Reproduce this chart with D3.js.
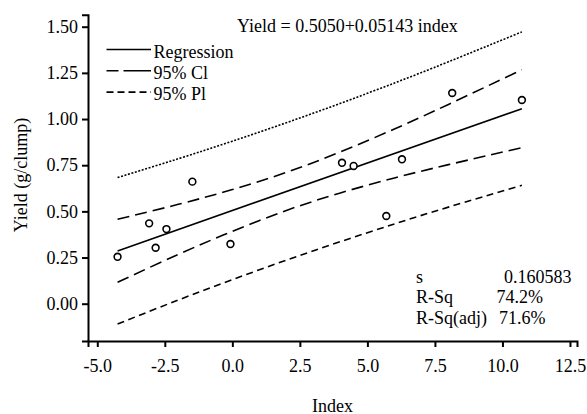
<!DOCTYPE html>
<html>
<head>
<meta charset="utf-8">
<script src="https://cdn.jsdelivr.net/npm/d3@7"></script>
<style>
  body { margin: 0; background: #fff; }
  svg text { font-family: "Liberation Serif", "Times New Roman", serif; font-size: 18px; fill: #000; }
</style>
</head>
<body>
<div id="chart"></div>
<script>
// observed points
const indexVals = [-4.25, -3.08, -2.84, -2.44, -1.48, -0.07, 4.06, 4.49, 5.70, 6.28, 8.14, 10.72];
const yieldVals = [0.254, 0.435, 0.303, 0.404, 0.661, 0.323, 0.763, 0.746, 0.475, 0.782, 1.141, 1.103];

// fitted line end points
const fitX = [-4.25, 10.72];
const fitY = [0.286, 1.056];

// bands
const bandX = [-4.25, -2, 0, 2, 4, 6, 8, 10.72];
const ciUpper = [0.457, 0.538, 0.618, 0.711, 0.822, 0.946, 1.079, 1.267];
const ciLower = [0.116, 0.267, 0.392, 0.505, 0.600, 0.681, 0.753, 0.845];
const piUpper = [0.683, 0.785, 0.880, 0.980, 1.085, 1.195, 1.310, 1.472];
const piLower = [-0.110, 0.020, 0.130, 0.236, 0.336, 0.432, 0.523, 0.641];

const xTicks = [-5, -2.5, 0, 2.5, 5, 7.5, 10, 12.5];
const yTicks = [0, 0.25, 0.5, 0.75, 1.0, 1.25, 1.5];

const equation = "Yield = 0.5050+0.05143 index";
const legendItems = ["Regression", "95% Cl", "95% Pl"];
const statNames = ["s", "R-Sq", "R-Sq(adj)"];
const statVals = ["0.160583", "74.2%", "71.6%"];

const width = 587, height = 414;

const svg = d3.select("#chart").append("svg")
    .attr("width", width)
    .attr("height", height);

const x = d3.scaleLinear().domain([-5.344, 12.76]).range([88, 577]);
const y = d3.scaleLinear().domain([-0.202, 1.565]).range([341, 14.7]);

// axes
const xAxis = svg.append("g")
    .attr("transform", "translate(0,341)")
    .call(d3.axisBottom(x).tickValues(xTicks).tickSizeOuter(0).tickSize(6).tickPadding(12)
        .tickFormat(d => d.toFixed(1)));
const yAxis = svg.append("g")
    .attr("transform", "translate(88,0)")
    .call(d3.axisLeft(y).tickValues(yTicks).tickSizeOuter(0).tickSize(6).tickPadding(4)
        .tickFormat(d => d.toFixed(2)));

[xAxis, yAxis].forEach(a => {
    a.selectAll("path, line").attr("stroke", "#000").attr("stroke-width", 2);
    a.selectAll("text").attr("font-family", null).attr("font-size", null);
});

// axis titles
svg.append("text")
    .attr("x", 332.5).attr("y", 411.5)
    .attr("text-anchor", "middle")
    .text("Index");
svg.append("text")
    .attr("transform", "translate(27,175) rotate(-90)")
    .attr("text-anchor", "middle")
    .text("Yield (g/clump)");

// lines
const line = d3.line()
    .x(d => x(d[0]))
    .y(d => y(d[1]))
    .curve(d3.curveNatural);

const bands = [
    {vals: ciUpper, dash: "12,6"},
    {vals: ciLower, dash: "12,6"},
    {vals: piUpper, dash: "2,1.6"},
    {vals: piLower, dash: "7,4.5"}
];

bands.forEach(b => {
    svg.append("path")
        .datum(d3.zip(bandX, b.vals))
        .attr("d", line)
        .attr("fill", "none")
        .attr("stroke", "#000")
        .attr("stroke-width", 1.6)
        .attr("stroke-dasharray", b.dash);
});

svg.append("path")
    .datum(d3.zip(fitX, fitY))
    .attr("d", d3.line().x(d => x(d[0])).y(d => y(d[1])))
    .attr("fill", "none")
    .attr("stroke", "#000")
    .attr("stroke-width", 1.6);

// points
svg.selectAll(".pt")
    .data(d3.zip(indexVals, yieldVals))
    .enter()
    .append("circle")
    .attr("class", "pt")
    .attr("cx", d => x(d[0]))
    .attr("cy", d => y(d[1]))
    .attr("r", 3.4)
    .attr("fill", "#fff")
    .attr("stroke", "#000")
    .attr("stroke-width", 1.6);

// equation
svg.append("text")
    .attr("x", 237).attr("y", 31.5)
    .text(equation);

// legend
const legendDash = [null, "12,5,40", "7,4"];
legendItems.forEach((name, i) => {
    const ly = 49.5 + i * 21.3;
    svg.append("line")
        .attr("x1", 106.5).attr("x2", 151)
        .attr("y1", ly).attr("y2", ly)
        .attr("stroke", "#000")
        .attr("stroke-width", 1.6)
        .attr("stroke-dasharray", legendDash[i]);
    svg.append("text")
        .attr("x", 153.5).attr("y", ly + 8)
        .text(name);
});

// stats box
const statValX = [571.5, 543, 545.5];
statNames.forEach((name, i) => {
    const sy = 282.5 + i * 20.8;
    svg.append("text").attr("x", 416).attr("y", sy).text(name);
    svg.append("text").attr("x", statValX[i]).attr("y", sy)
        .attr("text-anchor", "end").text(statVals[i]);
});
</script>
</body>
</html>
